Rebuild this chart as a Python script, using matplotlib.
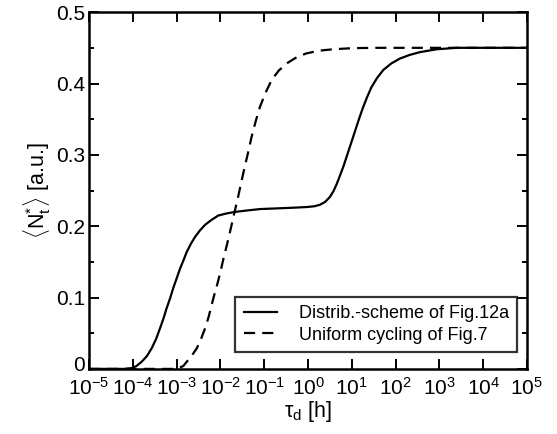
import matplotlib
matplotlib.use("Agg")
import matplotlib.pyplot as plt
import matplotlib.transforms as mtransforms
from matplotlib.ticker import LogLocator, LogFormatterSciNotation, MultipleLocator, NullLocator

plt.rcParams['font.family'] = ['Liberation Sans', 'DejaVu Sans']
plt.rcParams['mathtext.fontset'] = 'custom'
plt.rcParams['mathtext.rm'] = 'Liberation Sans'
plt.rcParams['mathtext.it'] = 'Liberation Sans'
plt.rcParams['mathtext.bf'] = 'Liberation Sans:bold'

# log10(tau_d) and <N_t*>
solid_logtau = [-5.0, -4.5, -4.2, -4.03, -3.92, -3.80, -3.68, -3.57, -3.47, -3.38, -3.30,
                -3.23, -3.15, -3.08, -3.00, -2.92, -2.84, -2.77, -2.67, -2.58, -2.47,
                -2.35, -2.20, -2.05, -1.85, -1.67, -1.4, -1.1, -0.7, -0.3, 0.0, 0.15,
                0.27, 0.39, 0.50, 0.58, 0.655, 0.73, 0.81, 0.885, 0.96, 1.035, 1.11,
                1.185, 1.26, 1.35, 1.45, 1.58, 1.72, 1.9, 2.10, 2.32, 2.56, 2.94, 3.4,
                4.0, 5.0]
solid_n = [0.0, 0.0, 0.0, 0.001, 0.004, 0.010, 0.018, 0.029, 0.042, 0.057, 0.071,
           0.085, 0.099, 0.113, 0.127, 0.141, 0.153, 0.164, 0.176, 0.185, 0.194,
           0.202, 0.209, 0.215, 0.218, 0.220, 0.222, 0.224, 0.225, 0.226, 0.227, 0.228,
           0.230, 0.234, 0.241, 0.249, 0.259, 0.271, 0.284, 0.298, 0.312, 0.326, 0.340,
           0.354, 0.367, 0.381, 0.395, 0.408, 0.419, 0.428, 0.435, 0.440, 0.444, 0.448, 0.450,
           0.450, 0.450]

dash_logtau = [-5.0, -3.5, -3.0, -2.85, -2.77, -2.65, -2.54, -2.45, -2.35, -2.27, -2.20,
               -2.14, -2.08, -2.00, -1.93, -1.86, -1.79, -1.73, -1.67, -1.59, -1.52,
               -1.45, -1.37, -1.29, -1.20, -1.10, -0.97, -0.83, -0.67, -0.49, -0.28,
               -0.05, 0.25, 0.58, 1.0, 1.5, 3.0, 5.0]
dash_n = [0.0, 0.0, 0.0, 0.004, 0.010, 0.019, 0.029, 0.041, 0.057, 0.073, 0.090,
          0.104, 0.117, 0.136, 0.155, 0.172, 0.190, 0.206, 0.222, 0.243, 0.263,
          0.282, 0.303, 0.325, 0.346, 0.367, 0.387, 0.405, 0.418, 0.428, 0.436,
          0.442, 0.446, 0.448, 0.4495, 0.450, 0.450, 0.450]

solid_tau = [10 ** v for v in solid_logtau]
dash_tau = [10 ** v for v in dash_logtau]

fig = plt.figure(figsize=(5.57, 4.34), dpi=100)
ax = fig.add_axes([0.160, 0.150, 0.786, 0.822])

ax.plot(solid_tau, solid_n, '-', color='black', lw=1.6, label='Distrib.-scheme of Fig.12a')
ax.plot(dash_tau, dash_n, '--', color='black', lw=1.6, dashes=(5, 3.2),
        label='Uniform cycling of Fig.7')

ax.set_xscale('log')
ax.set_xlim(1e-5, 1e5)
ax.set_ylim(0, 0.5)
ax.xaxis.set_major_locator(LogLocator(base=10, numticks=20))
ax.xaxis.set_major_formatter(LogFormatterSciNotation())
ax.xaxis.set_minor_locator(NullLocator())
ax.yaxis.set_minor_locator(MultipleLocator(0.05))
ax.set_yticks([0, 0.1, 0.2, 0.3, 0.4, 0.5])
ax.set_yticklabels(['0', '0.1', '0.2', '0.3', '0.4', '0.5'])

ax.tick_params(which='both', direction='in', top=True, right=True, width=1.4, labelsize=15)
ax.tick_params(which='major', length=7, pad=3)
ax.tick_params(axis='x', which='major', pad=6)
ax.tick_params(which='minor', length=3.6)
for s in ax.spines.values():
    s.set_linewidth(1.8)

# nudge the "0" up a little so it clears 10^-5
zero_lab = ax.get_yticklabels()[0]
zero_lab.set_transform(zero_lab.get_transform() +
                       mtransforms.ScaledTranslation(0, 4 / 72, fig.dpi_scale_trans))

ax.set_xlabel(r'$\tau_{\rm d}$ [h]', fontsize=15.5, labelpad=0)
ax.set_ylabel(r'$\langle \mathrm{N}_{t}^{*}\rangle$ [a.u.]', fontsize=15.5, labelpad=2)

leg = ax.legend(loc='lower right', fontsize=13, frameon=True, fancybox=False,
                edgecolor='black', handlelength=1.85, handletextpad=1.2,
                borderpad=0.45, labelspacing=0.25, borderaxespad=0,
                bbox_to_anchor=(0.977, 0.048))
leg.get_frame().set_linewidth(1.6)

fig.savefig('out.png', dpi=100)
